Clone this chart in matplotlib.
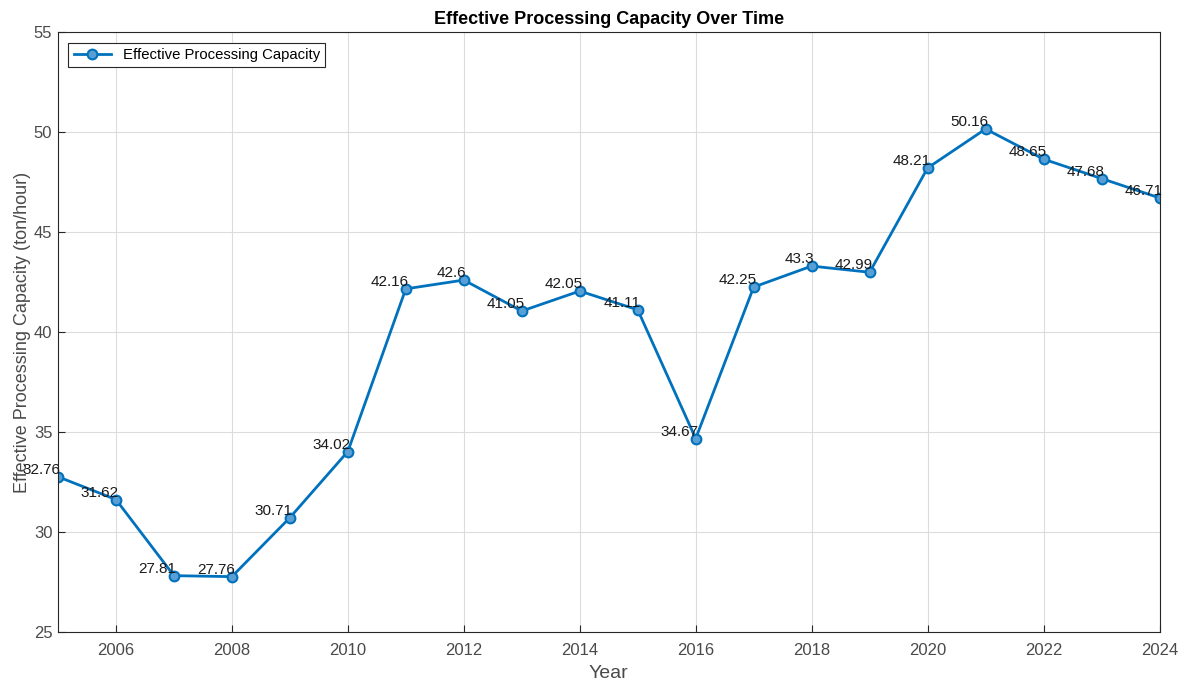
import matplotlib.pyplot as plt
import numpy as np

plt.rcParams['font.family'] = ['Liberation Sans', 'DejaVu Sans']

years = np.arange(2005, 2025)
capacity = np.array([32.76, 31.62, 27.81, 27.76, 30.71, 34.02, 42.16, 42.6, 41.05, 42.05,
                     41.11, 34.67, 42.25, 43.3, 42.99, 48.21, 50.16, 48.65, 47.68, 46.71])
labels = ['32.76', '31.62', '27.81', '27.76', '30.71', '34.02', '42.16', '42.6', '41.05', '42.05',
          '41.11', '34.67', '42.25', '43.3', '42.99', '48.21', '50.16', '48.65', '47.68', '46.71']

fig = plt.figure(figsize=(11.82, 6.86), dpi=100)
ax = fig.add_axes([0.049, 0.079, 0.932, 0.874])

line_color = '#0072BD'
ax.plot(years, capacity, '-o', color=line_color, linewidth=2, markersize=7,
        markerfacecolor='#5a9fd4', markeredgecolor=line_color, markeredgewidth=1.5,
        label='Effective Processing Capacity')

for x, y, s in zip(years, capacity, labels):
    ax.annotate(s, (x, y), xytext=(2, 0), textcoords='offset points',
                ha='right', va='bottom', fontsize=11, color='#1a1a1a')

ax.set_xlim(2005, 2024)
ax.set_ylim(25, 55)
ax.set_xticks(np.arange(2006, 2025, 2))
ax.set_yticks(np.arange(25, 56, 5))
ax.grid(True, color='#dcdcdc', linewidth=0.8)
ax.tick_params(direction='in', labelsize=12, colors='#262626', labelcolor='#4a4a4a', length=5)
ax.tick_params(axis='x', pad=8)
ax.tick_params(axis='y', pad=4)
for sp in ax.spines.values():
    sp.set_color('#262626')
    sp.set_linewidth(0.8)

ax.set_xlabel('Year', fontsize=14, color='#4a4a4a', labelpad=5)
ax.set_ylabel('Effective Processing Capacity (ton/hour)', fontsize=13, color='#4a4a4a', labelpad=2)
ax.set_title('Effective Processing Capacity Over Time', fontsize=13, fontweight='bold', pad=6)

leg = ax.legend(loc='upper left', fontsize=10.7, fancybox=False, edgecolor='#262626',
                framealpha=1, borderaxespad=0.7, handlelength=2.5, borderpad=0.35)
leg.get_frame().set_linewidth(0.8)

fig.savefig('out.png', dpi=100)
